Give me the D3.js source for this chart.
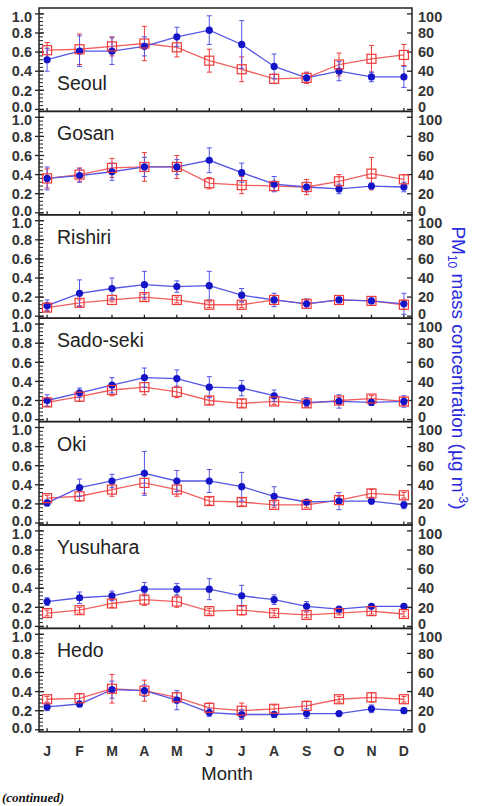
<!DOCTYPE html>
<html><head><meta charset="utf-8">
<script src="https://cdn.jsdelivr.net/npm/d3@7"></script>
<style>body{margin:0;background:#fff;}svg{display:block;}</style>
</head><body>
<script>
const months = ["J","F","M","A","M","J","J","A","S","O","N","D"];
const stations = ["Seoul","Gosan","Rishiri","Sado-seki","Oki","Yusuhara","Hedo"];
const leftTicks = [0.0,0.2,0.4,0.6,0.8,1.0];
const rightTicks = [0,20,40,60,80,100];
// red open squares (left axis)
const redVal = [
 [0.62,0.63,0.66,0.69,0.65,0.51,0.42,0.32,0.33,0.47,0.53,0.57],
 [0.36,0.40,0.47,0.48,0.48,0.31,0.29,0.28,0.27,0.33,0.41,0.35],
 [0.09,0.14,0.17,0.20,0.17,0.12,0.12,0.17,0.13,0.17,0.16,0.12],
 [0.18,0.24,0.31,0.34,0.29,0.20,0.17,0.19,0.17,0.20,0.22,0.19],
 [0.26,0.28,0.35,0.42,0.35,0.23,0.22,0.19,0.19,0.24,0.31,0.29],
 [0.14,0.17,0.24,0.28,0.26,0.16,0.17,0.14,0.12,0.14,0.16,0.13],
 [0.32,0.33,0.43,0.41,0.34,0.23,0.20,0.22,0.25,0.32,0.34,0.32]
];
const redErr = [
 [0.08,0.16,0.10,0.18,0.10,0.12,0.13,0.05,0.06,0.12,0.14,0.11],
 [0.10,0.07,0.10,0.15,0.12,0.06,0.09,0.05,0.08,0.07,0.17,0.05],
 [0.03,0.03,0.02,0.03,0.03,0.03,0.03,0.03,0.03,0.02,0.02,0.05],
 [0.04,0.05,0.06,0.08,0.06,0.04,0.04,0.03,0.03,0.03,0.03,0.04],
 [0.03,0.05,0.07,0.11,0.07,0.04,0.04,0.03,0.03,0.04,0.04,0.03],
 [0.03,0.03,0.04,0.06,0.06,0.03,0.05,0.03,0.03,0.02,0.03,0.03],
 [0.03,0.05,0.15,0.11,0.05,0.05,0.08,0.04,0.05,0.03,0.05,0.03]
];
// blue dots: PM10 (right axis, ug m-3)
const blueVal = [
 [52,61,61,66,76,83,68,45,33,40,34,34],
 [36,39,43,48,48,55,42,30,27,25,28,27],
 [11,24,29,33,31,32,22,17,13,17,16,13],
 [20,28,36,44,43,34,33,25,18,19,18,19],
 [21,37,44,52,44,44,38,28,22,23,23,19],
 [26,30,32,39,39,39,32,28,21,18,21,21],
 [24,27,42,41,31,18,16,16,17,17,22,20]
];
const blueErr = [
 [12,16,14,10,10,15,25,13,5,10,5,11],
 [12,7,9,10,8,13,10,8,5,5,3,5],
 [6,14,11,14,6,15,7,7,5,3,3,11],
 [6,5,8,10,9,11,8,6,5,7,3,6],
 [3,9,7,23,11,12,15,10,2,9,3,4],
 [4,6,5,7,6,11,11,5,5,2,2,2],
 [4,3,9,6,10,4,5,3,5,1,4,3]
];

const W = 481, H = 806;
const svg = d3.select("body").append("svg").attr("width", W).attr("height", H);
const font = "'Liberation Sans', Arial, Helvetica, sans-serif";
const xL = 39, xR = 412, top0 = 8, panelH = 103.4;
const x = d3.scaleLinear().domain([-0.25, 11.25]).range([xL, xR]);
const redC = "#ee3a3a", redLine = "#f06060", blueC = "#1515c8", blueLine = "#5555e6";

stations.forEach((st, i) => {
  const t = top0 + i * panelH, b = t + panelH;
  const y = d3.scaleLinear().domain([0, 1]).range([b - 2, b - 2 - 95.5]);
  const y2 = d3.scaleLinear().domain([0, 100]).range([b - 2, b - 2 - 95.5]);
  const g = svg.append("g");
  g.append("rect").attr("x", xL).attr("y", t).attr("width", xR - xL).attr("height", panelH)
    .attr("fill", "none").attr("stroke", "#222").attr("stroke-width", 1.5);
  const minor = d3.range(0, 1.0001, 0.04);
  g.selectAll(".mn").data(minor).join("line")
    .attr("x1", xL).attr("x2", xL + 4).attr("y1", d => y(d)).attr("y2", d => y(d))
    .attr("stroke", "#222").attr("stroke-width", 1);
  g.selectAll(".mj").data(leftTicks).join("line")
    .attr("x1", xL - 4).attr("x2", xL + 5).attr("y1", d => y(d)).attr("y2", d => y(d))
    .attr("stroke", "#222").attr("stroke-width", 1.3);
  const lOff = d => d === 0 ? -2.5 : (d === 1 ? 2.5 : 0);
  g.selectAll(".lt").data(leftTicks).join("text")
    .attr("x", 32).attr("y", d => y(d) + lOff(d)).attr("dy", "0.36em").attr("text-anchor", "end")
    .attr("font-family", font).attr("font-size", 14.5).attr("font-weight", "bold").attr("fill", "#333")
    .text(d => d.toFixed(1));
  g.selectAll(".rt").data(rightTicks).join("line")
    .attr("x1", xR - 5).attr("x2", xR).attr("y1", d => y2(d)).attr("y2", d => y2(d))
    .attr("stroke", "#222").attr("stroke-width", 1.3);
  g.selectAll(".rl").data(rightTicks).join("text")
    .attr("x", 418).attr("y", d => y2(d) + lOff(d / 100)).attr("dy", "0.36em").attr("text-anchor", "start")
    .attr("font-family", font).attr("font-size", 14.5).attr("font-weight", "bold").attr("fill", "#333")
    .text(d => d);
  g.selectAll(".xt").data(months).join("line")
    .attr("x1", (d, k) => x(k)).attr("x2", (d, k) => x(k)).attr("y1", b).attr("y2", b - 3.5)
    .attr("stroke", "#222").attr("stroke-width", 1.3);
  g.append("text").attr("x", 57).attr("y", i === 0 ? t + 82 : t + 29)
    .attr("font-family", font).attr("font-size", 19.5).attr("fill", "#222").text(st);

  const rv = redVal[i], re = redErr[i];
  g.append("path").datum(rv).attr("fill", "none").attr("stroke", redLine).attr("stroke-width", 1.3)
    .attr("d", d3.line().x((d, k) => x(k)).y(d => y(d)));
  const rg = g.selectAll(".re").data(rv).join("g");
  rg.append("line").attr("x1", (d, k) => x(k)).attr("x2", (d, k) => x(k))
    .attr("y1", (d, k) => y(d + re[k])).attr("y2", (d, k) => y(d - re[k]))
    .attr("stroke", redC).attr("stroke-width", 1);
  rg.append("line").attr("x1", (d, k) => x(k) - 2.5).attr("x2", (d, k) => x(k) + 2.5)
    .attr("y1", (d, k) => y(d + re[k])).attr("y2", (d, k) => y(d + re[k])).attr("stroke", redC).attr("stroke-width", 1);
  rg.append("line").attr("x1", (d, k) => x(k) - 2.5).attr("x2", (d, k) => x(k) + 2.5)
    .attr("y1", (d, k) => y(d - re[k])).attr("y2", (d, k) => y(d - re[k])).attr("stroke", redC).attr("stroke-width", 1);

  const bv = blueVal[i], be = blueErr[i];
  g.append("path").datum(bv).attr("fill", "none").attr("stroke", blueLine).attr("stroke-width", 1.3)
    .attr("d", d3.line().x((d, k) => x(k)).y(d => y2(d)));
  const bg = g.selectAll(".be").data(bv).join("g");
  bg.append("line").attr("x1", (d, k) => x(k)).attr("x2", (d, k) => x(k))
    .attr("y1", (d, k) => y2(d + be[k])).attr("y2", (d, k) => y2(d - be[k]))
    .attr("stroke", blueLine).attr("stroke-width", 1);
  bg.append("line").attr("x1", (d, k) => x(k) - 2.5).attr("x2", (d, k) => x(k) + 2.5)
    .attr("y1", (d, k) => y2(d + be[k])).attr("y2", (d, k) => y2(d + be[k])).attr("stroke", blueLine).attr("stroke-width", 1);
  bg.append("line").attr("x1", (d, k) => x(k) - 2.5).attr("x2", (d, k) => x(k) + 2.5)
    .attr("y1", (d, k) => y2(d - be[k])).attr("y2", (d, k) => y2(d - be[k])).attr("stroke", blueLine).attr("stroke-width", 1);
  g.selectAll(".bd").data(bv).join("circle")
    .attr("cx", (d, k) => x(k)).attr("cy", d => y2(d)).attr("r", 3.6).attr("fill", blueC);

  g.selectAll(".rs").data(rv).join("rect")
    .attr("x", (d, k) => x(k) - 4.5).attr("y", d => y(d) - 4.5).attr("width", 9).attr("height", 9)
    .attr("fill", "none").attr("stroke", redC).attr("stroke-width", 1.2);
});

const bottom = top0 + 7 * panelH;
svg.selectAll(".ml").data(months).join("text")
  .attr("x", (d, k) => x(k)).attr("y", bottom + 24).attr("text-anchor", "middle")
  .attr("font-family", font).attr("font-size", 14).attr("font-weight", "bold").attr("fill", "#333")
  .text(d => d);
svg.append("text").attr("x", 227).attr("y", bottom + 48).attr("text-anchor", "middle")
  .attr("font-family", font).attr("font-size", 18.5).attr("fill", "#222").text("Month");

const tt = svg.append("text").attr("transform", "translate(452,368) rotate(90)")
  .attr("text-anchor", "middle").attr("font-family", font).attr("font-size", 19).attr("fill", "#2a2ae0");
tt.append("tspan").text("PM");
tt.append("tspan").attr("font-size", 12).attr("dy", 4).text("10");
tt.append("tspan").attr("dy", -4).text(" mass concentration (µg m");
tt.append("tspan").attr("font-size", 12).attr("dy", -7).text("-3");
tt.append("tspan").attr("dy", 7).text(")");

svg.append("text").attr("x", 2).attr("y", 802).attr("font-family", "'Liberation Serif', serif")
  .attr("font-style", "italic").attr("font-weight", "bold").attr("font-size", 13).attr("fill", "#111").text("(continued)");
</script>
</body></html>
